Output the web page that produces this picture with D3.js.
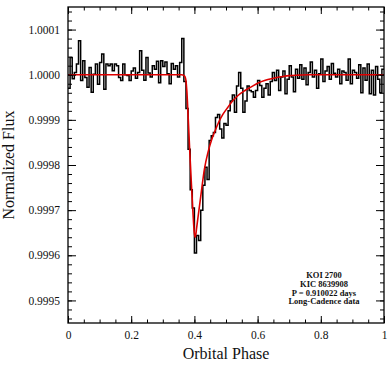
<!DOCTYPE html>
<html>
<head>
<meta charset="utf-8">
<script src="https://cdn.jsdelivr.net/npm/d3@7.9.0/dist/d3.min.js"></script>
<style>
  body { margin: 0; background: #fff; }
  svg { display: block; font-family: "Liberation Serif", "DejaVu Serif", serif; }
  .axis path { display: none; }
  .axis line { stroke: #000; stroke-width: 1; }
</style>
</head>
<body>
<svg id="chart" width="390" height="367"></svg>
<script>
// binned folded light curve, flux offset in ppm (150 equal bins in phase)
const binCount = 150;
const fluxPpm = [
  -30, 38, -9, 5, 24, 75, -13, 31, -6, -28, 16, -39, 1, 24, -21, 27, 46, -32, 24, 20,
  24, 9, 24, 20, -6, -13, 24, 0, -2, -13, 8, 15, -8, 5, 53, 10, -12, 38, 4, -5,
  20, 12, 30, -18, 31, 18, 28, 2, -20, 25, 12, 20, -5, 27, 80, -15, -75, -165, -255, -295,
  -395, -356, -367, -300, -245, -205, -232, -146, -135, -128, -95, -88, -120, -140, -108, -112, -80, -58, -45, -83,
  -25, 5, -30, -83, -58, -25, -35, -38, -50, -35, -13, -24, -50, -30, -20, -45, -15, 5, -13, 10,
  -35, -5, 8, -42, -10, 20, -5, -38, 12, -8, 22, -10, 15, -22, 5, 28, -5, 10, -30, 2,
  35, -15, 8, 18, -10, 25, 3, -5, 12, -20, 8, 5, -12, 35, -20, 10, 5, -8, 22, -40,
  15, -12, 24, -42, 10, -45, 18, -10, -40, 12
];

// transit model (phase, ppm)
const modelPhase = [0, 0.36, 0.366, 0.37, 0.373, 0.376, 0.38, 0.385, 0.39, 0.395, 0.4, 0.403, 0.407, 0.411,
  0.42, 0.432, 0.443, 0.454, 0.465, 0.475, 0.49, 0.506, 0.52, 0.538, 0.56, 0.58, 0.6, 0.622, 0.65, 0.68, 0.7, 0.73, 0.76, 1];
const modelPpm = [0, 0, -1, -4, -12, -35, -90, -165, -235, -300, -352, -360, -340, -318,
  -270, -208, -172, -145, -125, -108, -88, -72, -59, -46, -35, -27, -19, -13, -8, -4, -2, -1, 0, 0];

const xTicks = [0, 0.2, 0.4, 0.6, 0.8, 1];
const yTicks = [0.9995, 0.9996, 0.9997, 0.9998, 0.9999, 1.0000, 1.0001];
const infoLines = ['KOI 2700', 'KIC 8639908', 'P = 0.910022 days', 'Long-Cadence data'];

const width = 390, height = 367;
const margin = { top: 7, right: 6, bottom: 44, left: 68 };
const serif = '"Liberation Serif", "DejaVu Serif", serif';
const svg = d3.select('#chart');

const x = d3.scaleLinear().domain([0, 1]).range([margin.left, width - margin.right]);
const y = d3.scaleLinear().domain([0.99945, 1.00015]).range([height - margin.bottom, margin.top]);

const toFlux = (p) => 1 + p * 1e-6;

// data as steps
let steps = fluxPpm.map((v, i) => ({ phase: i / binCount, flux: toFlux(v) }));
steps.push({ phase: 1, flux: toFlux(fluxPpm[fluxPpm.length - 1]) });

const stepLine = d3.line()
  .x(d => x(d.phase))
  .y(d => y(d.flux))
  .curve(d3.curveStepAfter);

svg.append('path')
  .datum(steps)
  .attr('d', stepLine)
  .attr('fill', 'none')
  .attr('stroke', '#000')
  .attr('stroke-width', 1.5);

const model = modelPhase.map((p, i) => ({ phase: p, flux: toFlux(modelPpm[i]) }));
const modelLine = d3.line()
  .x(d => x(d.phase))
  .y(d => y(d.flux))
  .curve(d3.curveMonotoneX);

svg.append('path')
  .datum(model)
  .attr('d', modelLine)
  .attr('fill', 'none')
  .attr('stroke', '#dd0000')
  .attr('stroke-width', 1.6);

// axes: inward ticks on all four sides
const xMinor = d3.range(0, 1.0001, 0.05);
const yMinor = d3.range(0.99946, 1.00015, 0.00002);
const bottomY = height - margin.bottom, topY = margin.top;
const leftX = margin.left, rightX = width - margin.right;

function addAxis(axis, tx, ty) {
  svg.append('g').attr('class', 'axis')
    .attr('transform', `translate(${tx},${ty})`)
    .call(axis)
    .attr('font-family', serif)
    .attr('font-size', 11.5)
    .selectAll('text').attr('fill', '#111');
}

addAxis(d3.axisBottom(x).tickValues(xMinor).tickSize(-3.5).tickFormat(''), 0, bottomY);
addAxis(d3.axisBottom(x).tickValues(xTicks).tickSize(-7).tickPadding(8).tickFormat(d3.format('')), 0, bottomY);
addAxis(d3.axisTop(x).tickValues(xMinor).tickSize(-3.5).tickFormat(''), 0, topY);
addAxis(d3.axisTop(x).tickValues(xTicks).tickSize(-7).tickFormat(''), 0, topY);
addAxis(d3.axisLeft(y).tickValues(yMinor).tickSize(-4).tickFormat(''), leftX, 0);
addAxis(d3.axisLeft(y).tickValues(yTicks).tickSize(-8).tickPadding(8).tickFormat(d3.format('.4f')), leftX, 0);
addAxis(d3.axisRight(y).tickValues(yMinor).tickSize(-4).tickFormat(''), rightX, 0);
addAxis(d3.axisRight(y).tickValues(yTicks).tickSize(-8).tickFormat(''), rightX, 0);

// frame
svg.append('rect')
  .attr('x', leftX).attr('y', topY)
  .attr('width', rightX - leftX).attr('height', bottomY - topY)
  .attr('fill', 'none').attr('stroke', '#000').attr('stroke-width', 1.3);

// titles
svg.append('text')
  .attr('x', (leftX + rightX) / 2).attr('y', 359)
  .attr('text-anchor', 'middle')
  .attr('font-family', serif)
  .attr('font-size', 16).attr('fill', '#111')
  .text('Orbital Phase');

svg.append('text')
  .attr('transform', `translate(14,${(topY + bottomY) / 2}) rotate(-90)`)
  .attr('text-anchor', 'middle')
  .attr('font-family', serif)
  .attr('font-size', 16).attr('fill', '#111')
  .text('Normalized Flux');

// info box text
svg.append('g').selectAll('text')
  .data(infoLines)
  .join('text')
  .attr('x', 324)
  .attr('y', (d, i) => 278 + i * 8.8)
  .attr('text-anchor', 'middle')
  .attr('font-family', serif)
  .attr('font-size', 8.5).attr('font-weight', 'bold').attr('fill', '#111')
  .text(d => d);
</script>
</body>
</html>
